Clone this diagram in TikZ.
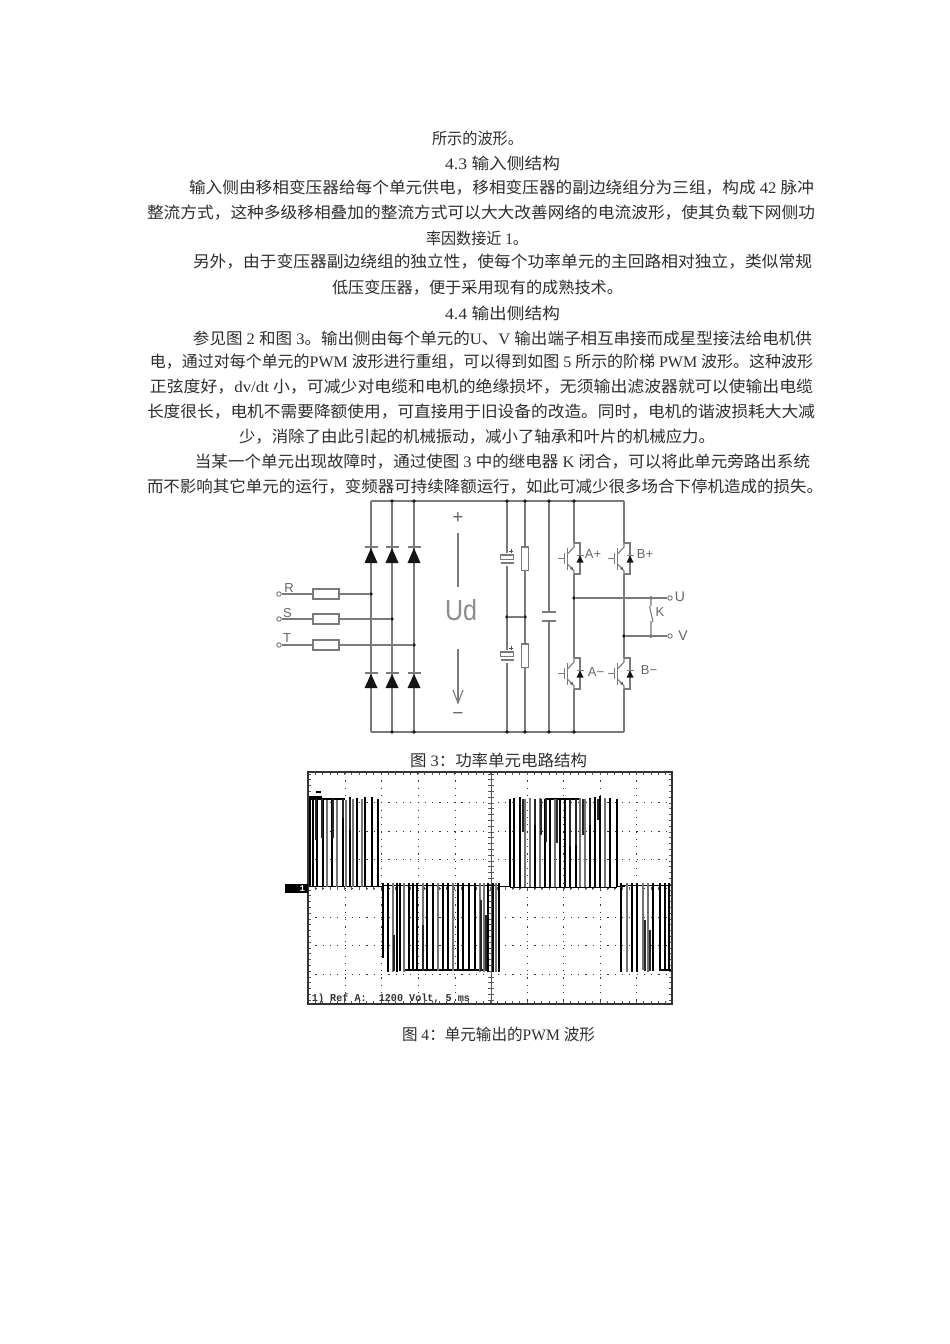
\documentclass[tikz,border=0pt]{standalone}
\usepackage{fontspec}
\usepackage{graphicx}
\usetikzlibrary{arrows.meta}
\setmainfont{Noto Sans CJK SC}
\newfontfamily\latf{Liberation Mono}
\newfontfamily\latsf{Liberation Serif}
\newfontfamily\labf{Liberation Sans}
\newcommand{\lat}[1]{{\latsf\fontsize{16}{19}\selectfont #1}}
\newcounter{tlc}
\newcommand{\tl}[4]{%
  \stepcounter{tlc}%
  \pgfmathsetmacro{\tlw}{#2-#1}\pgfmathsetmacro{\tlx}{(#1+#2)/2}%
  \node[txt] (line\arabic{tlc}) at (\tlx,#3) {\resizebox{\tlw pt}{\height}{#4}};}
\newcommand{\fuse}[1]{\draw[wire,fill=white] (313,#1-5) rectangle (339,#1+5);}
\newcommand{\updiode}[3]{%
  \fill[dio] (#1,#2+1) -- (#1-6.5,#3) -- (#1+6.5,#3) -- cycle;
  \draw[wire] (#1-6.5,#2) -- (#1+6.5,#2);}
\newcommand{\igbt}[2]{%
  \draw[wire] (#1,#2) -- (#1+6,#2) -- (#1+6,#2+31) -- (#1,#2+31);
  \draw[wire] (#1,#2) -- (#1,#2+4) -- (#1-6.5,#2+11);
  \draw[wire] (#1-6.5,#2+21) -- (#1,#2+28) -- (#1,#2+31);
  \fill[gray!70!black] (#1-1,#2+27) -- (#1-4,#2+26) -- (#1-1.5,#2+23.5) -- cycle;
  \draw[wire,line width=1.4pt] (#1-6.5,#2+5) -- (#1-6.5,#2+27);
  \draw[wire] (#1-16,#2+15.5) -- (#1-9.5,#2+15.5) (#1-9.5,#2+10) -- (#1-9.5,#2+21);
  \fill[dio] (#1+6,#2+12.5) -- (#1+2.5,#2+19.5) -- (#1+9.5,#2+19.5) -- cycle;
  \draw[wire] (#1+2.5,#2+12.5) -- (#1+9.5,#2+12.5);}
\tikzset{
  x=1pt,y=-1pt,
  txt/.style={inner sep=0pt,outer sep=0pt,text=black!82,font=\fontsize{16}{19}\selectfont},
  wire/.style={draw=black!52,line width=1.1pt},
  dio/.style={fill=black!92},
  lab/.style={inner sep=0pt,text=black!60,font=\labf\fontsize{13}{15}\selectfont},
  jdot/.style={circle,fill=black!90,inner sep=0pt,minimum size=3.6pt},
  term/.style={circle,draw=black!60,line width=0.8pt,fill=white,inner sep=0pt,minimum size=4.5pt},
  griddot/.style={draw=black!80,line width=1pt,dash pattern=on 1.2pt off 6.1pt},
  pulseA/.style={draw=black,line width=1.3pt},
  pulseB/.style={draw=black!55,line width=1.8pt},
  notch/.style={draw=black!85,line width=1.5pt},
  tick/.style={draw=black!65,line width=.7pt},
  frame/.style={draw=black!80,line width=1.1pt},
}
\begin{document}
\begin{tikzpicture}
\useasboundingbox[fill=white] (0,0) rectangle (950,1344);

% ---- text ----
\tl{432}{523}{138}{所示的波形。}
\tl{445}{560}{163}{\lat{4.3 }输入侧结构}
\tl{189}{814}{188}{输入侧由移相变压器给每个单元供电，移相变压器的副边绕组分为三组，构成\lat{ 42 }脉冲}
\tl{147}{815}{213}{整流方式，这种多级移相叠加的整流方式可以大大改善网络的电流波形，使其负载下网侧功}
\tl{426}{528}{238}{率因数接近\lat{ 1}。}
\tl{193}{812}{262}{另外，由于变压器副边绕组的独立性，使每个功率单元的主回路相对独立，类似常规}
\tl{332}{623}{288}{低压变压器，便于采用现有的成熟技术。}
\tl{445}{560}{313}{\lat{4.4 }输出侧结构}
\tl{193}{812}{338}{参见图\lat{ 2 }和图\lat{ 3}。输出侧由每个单元的\lat{U}、\lat{V }输出端子相互串接而成星型接法给电机供}
\tl{150}{813}{362}{电，通过对每个单元的\lat{PWM }波形进行重组，可以得到如图\lat{ 5 }所示的阶梯\lat{ PWM }波形。这种波形}
\tl{150}{813}{387}{正弦度好，\lat{dv/dt }小，可减少对电缆和电机的绝缘损坏，无须输出滤波器就可以使输出电缆}
\tl{147}{815}{412}{长度很长，电机不需要降额使用，可直接用于旧设备的改造。同时，电机的谐波损耗大大减}
\tl{239}{715}{437}{少，消除了由此引起的机械振动，减小了轴承和叶片的机械应力。}
\tl{195}{810}{462}{当某一个单元出现故障时，通过使图\lat{ 3 }中的继电器\lat{ K }闭合，可以将此单元旁路出系统}
\tl{147}{823}{487}{而不影响其它单元的运行，变频器可持续降额运行，如此可减少很多场合下停机造成的损失。}
\tl{410}{587}{760}{图\lat{ 3}：功率单元电路结构}
\tl{402}{595}{1034}{图\lat{ 4}：单元输出的\lat{PWM }波形}

% ---- circuit ----
\foreach \n/\x in {tr/371,ts/392,tt/414,tc1/507,tr1/525,tc2/549,ta/574,tb/624}{
  \coordinate (\n) at (\x,501);}
\foreach \n/\x in {br/371,bs/392,bt/414,bc1/507,br1/525,bc2/549,ba/574,bb/624}{
  \coordinate (\n) at (\x,732);}
\draw[wire] (tr) -- (tb) (br) -- (bb);
\draw[wire] (tr) -- (br);
\draw[wire,line width=1.3pt] (ts) -- (bs) (tt) -- (bt);
\draw[wire] (tc1) -- (bc1) (tr1) -- (br1) (tc2) -- (bc2);

\foreach \x in {371,392,414}{
  \updiode{\x}{547}{563}
  \updiode{\x}{673}{688}}

% inputs
\node[term] (R) at (279,594) {};
\node[term] (S) at (279,619) {};
\node[term] (T) at (279,645) {};
\node[jdot] (jr) at (371,594) {};
\node[jdot] (js) at (392,619) {};
\node[jdot] (jt) at (414,645) {};
\draw[wire] (R) -- (jr);
\draw[wire] (S) -- (js);
\draw[wire] (T) -- (jt);
\fuse{594}\fuse{619}\fuse{645}
\node[lab] (lR) at (289,588) {R};
\node[lab] (lS) at (287.5,613) {S};
\node[lab] (lT) at (287,638) {T};

% Ud
\node[lab,font=\labf\fontsize{19}{22}\selectfont] (plus) at (458,518) {+};
\node[lab,font=\labf\fontsize{29}{32}\selectfont,text=black!45] (ud) at (461,610) {\resizebox{32pt}{\height}{Ud}};
\node[lab,font=\labf\fontsize{19}{22}\selectfont] (minus) at (458,716) {−};
\coordinate (u1) at (458,533); \coordinate (u2) at (458,587);
\coordinate (d1) at (458,649); \coordinate (d2) at (458,703);
\draw[wire] (u1) -- (u2) (d1) -- (d2);
\draw[wire] (453,690) -- (d2) -- (463,690);

% electrolytics
\foreach \yy in {555,652}{
  \fill[white] (498,\yy-2) rectangle (516,\yy+11);
  \draw[wire,line width=1.1pt,fill=white] (500.5,\yy) rectangle (513.5,\yy+4.5);
  \draw[wire,line width=1.1pt] (500.5,\yy+8) -- (513.5,\yy+8);
  \draw[black!70,line width=.7pt] (509,\yy-4) -- (513,\yy-4) (511,\yy-6) -- (511,\yy-2);
}
% resistors
\foreach \yy in {547,644}{
  \draw[wire,fill=white] (521.7,\yy) rectangle (528.3,\yy+23.5);}
% bus capacitor
\fill[white] (541,612.5) rectangle (557,620.5);
\draw[wire,line width=1.1pt] (542,612) -- (556,612) (542,621) -- (556,621);

% IGBTs
\draw[wire] (ta) -- (574,543) (574,574) -- (574,658) (574,689) -- (ba);
\draw[wire] (tb) -- (624,543) (624,574) -- (624,658) (624,689) -- (bb);
\igbt{574}{543}
\igbt{624}{543}
\igbt{574}{658}
\igbt{624}{658}
\node[lab] (lAp) at (593,554) {A+};
\node[lab] (lBp) at (645,554) {B+};
\node[lab] (lAm) at (596,672) {A−};
\node[lab] (lBm) at (649,670) {B−};

% outputs
\node[term] (U) at (670,598) {};
\node[term] (V) at (670,636) {};
\node[jdot] (ju) at (574,598) {};
\node[jdot] (jk1) at (651,598) {};
\node[jdot] (jv) at (624,636) {};
\node[jdot] (jk2) at (651,636) {};
\draw[wire] (ju) -- (U);
\draw[wire] (jv) -- (V);
\coordinate (k1) at (649.5,606); \coordinate (k2) at (653,622); \coordinate (k3) at (651,621);
\draw[wire] (jk1) -- (651,606) (k1) -- (k2) (k3) -- (jk2);
\node[lab] (lK) at (660,612) {K};
\node[lab,font=\labf\fontsize{14}{16}\selectfont] (lU) at (680,597) {U};
\node[lab,font=\labf\fontsize{14}{16}\selectfont] (lV) at (683,636) {V};

% junction dots
\foreach \n in {ts,tt,tc1,tr1,tc2,ta,bs,bt,bc1,br1,bc2,ba}{
  \node[jdot] at (\n) {};}
\node[jdot] (m1) at (507,617) {};
\node[jdot] (m2) at (525,617) {};
\draw[wire] (m1) -- (m2);

% ---- oscilloscope ----
\foreach \y in {802,831,859,917,945,974}{
  \draw[griddot] (308,\y) -- (672,\y);}
\foreach \x in {345,381.5,418,455,527,563.5,600,636.5}{
  \draw[griddot] (\x,773) -- (\x,1004);}
\draw[griddot] (308,888) -- (672,888);
% centre graticule
\draw[tick] (491,773) -- (491,1004);
\foreach \i in {0,...,39}{
  \draw[tick] (488,774+5.8*\i) -- (494,774+5.8*\i);
  \draw[tick] (308,774+5.8*\i) -- (311,774+5.8*\i);
  \draw[tick] (672,774+5.8*\i) -- (669,774+5.8*\i);}
\foreach \i in {0,...,49}{
  \draw[tick] (308+7.3*\i,1004) -- (308+7.3*\i,1001);
  \draw[tick] (308+7.3*\i,772) -- (308+7.3*\i,775);
  \draw[tick] (308+7.3*\i,887) -- (308+7.3*\i,890);}

% waveform: baseline and level runs
\draw[black,line width=1pt] (310,886) -- (383,886) (499,886) -- (510,886) (617,886) -- (625,886);
\draw[black,line width=.9pt] (383,885) -- (499,885) (621,885) -- (672,885);
\draw[black,line width=.9pt] (510,887) -- (617,887);
\draw[black,line width=1.2pt] (311,799) -- (345,799) (545,799) -- (580,799);
\draw[black,line width=1.2pt] (403,970) -- (484,970) (660,970) -- (672,970);
\draw[black,line width=1.6pt] (311,797) -- (322,797) (316,792) -- (321,792);
% positive pulses
\foreach \x/\s/\t in {310/A/796,313/A/797,317/A/798,323/A/799,327/B/800,332/A/799,337/B/800,343/A/798,346/B/800,350/A/797,353/B/799,357/A/798,362/B/799,365/A/797,372/A/797,378/A/799,
  510/A/799,514/A/798,520/A/797,525/B/799,530/B/798,535/A/799,540/B/798,545/A/799,550/A/799,555/B/799,560/A/799,565/A/799,570/A/799,576/A/799,580/B/798,585/B/799,590/A/798,595/A/797,600/A/796,605/B/798,610/A/798,617/A/799}{
  \draw[pulse\s] (\x,\t) -- (\x,887);}
\foreach \x/\e in {316/840,322/838,333/838,343/818,350/830,
  523/832,535/825,541/835,546/842,557/843,570/846,576/845,583/835,590/825,598/820}{
  \draw[notch] (\x,799) -- (\x,\e);}
% negative pulses
\foreach \x/\s/\b in {383/A/958,388/A/972,393/B/972,397/A/972,400/A/971,404/B/972,409/A/971,413/A/970,417/A/971,423/B/971,427/A/971,433/A/971,438/B/971,443/A/971,448/A/971,453/B/971,458/A/971,463/A/971,469/A/971,475/A/971,480/B/972,484/B/972,488/A/972,493/A/972,496/B/972,499/A/972,
  621/A/972,627/B/972,632/A/972,637/A/972,643/B/970,648/B/972,653/A/971,660/A/971,665/A/970,669/A/971}{
  \draw[pulse\s] (\x,883) -- (\x,\b);}
\foreach \x/\e in {394/935,423/925,481/900,486/915,
  645/920,650/930}{
  \draw[notch] (\x,\e) -- (\x,971);}

% frame, marker, readout
\draw[frame] (308,772) rectangle (672,1004);
\node[fill=black,minimum width=23pt,minimum height=9pt,inner sep=0pt,anchor=east,
  text=white,font=\latf\bfseries\fontsize{9}{10}\selectfont] (mark) at (308,888.5) {\hspace*{12pt}1};
\node[inner sep=0pt,text=black!80] (readout) at (391,999)
  {\resizebox{158pt}{\height}{\latf\bfseries\fontsize{10.5}{12}\selectfont 1) Ref A:\ \ 1200 Volt, 5 ms}};
\end{tikzpicture}
\end{document}
